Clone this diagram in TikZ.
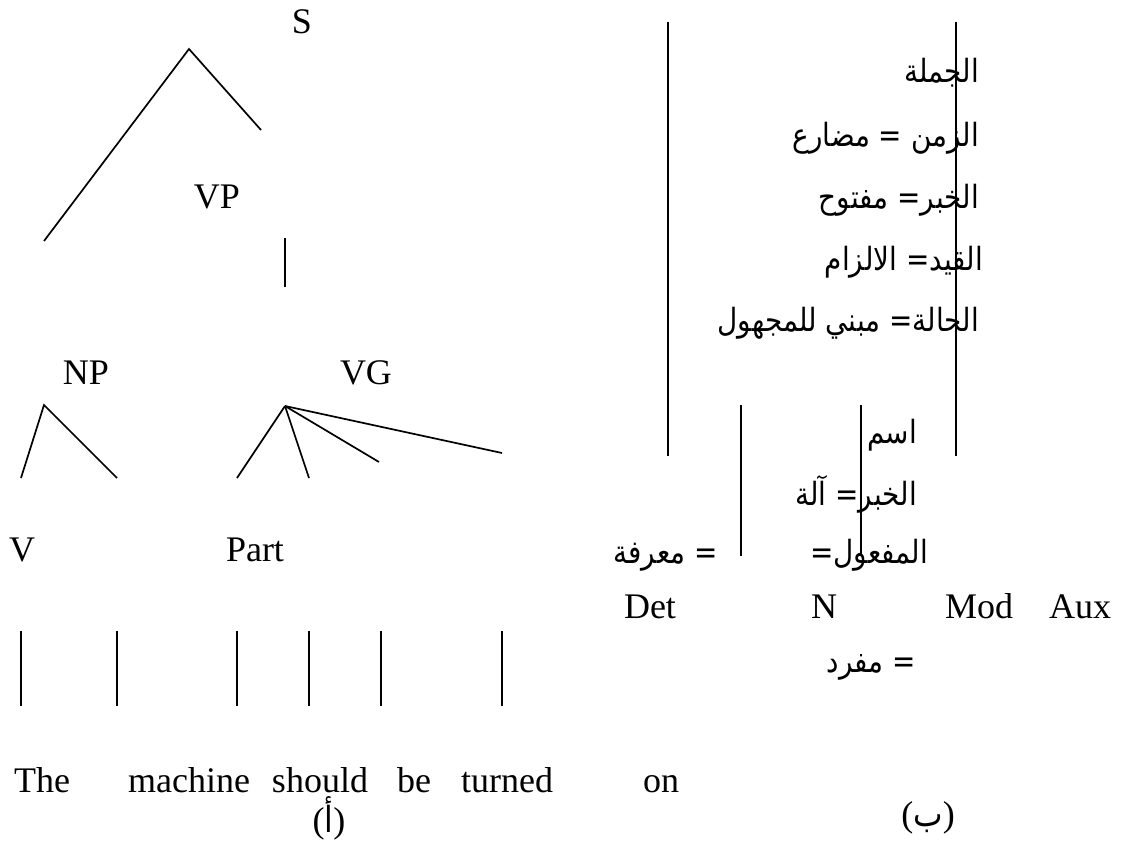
\documentclass[tikz,border=0pt]{standalone}
\usepackage{fontspec}
\setmainfont{Liberation Serif}
\newfontfamily\arabicfont[Script=Arabic,FakeStretch=0.87]{DejaVu Sans}
\TeXXeTstate=1
\begin{document}
\begin{tikzpicture}[x=1pt,y=-1pt,
  lat/.style={font=\fontsize{36}{40}\selectfont, inner sep=0pt, anchor=base},
  ara/.style={font=\arabicfont\fontsize{32}{36}\selectfont, inner sep=0pt, anchor=base east},
  branch/.style={line width=1.7pt, line cap=butt}]
\useasboundingbox (0,0) rectangle (1126,843);
% ---------- left tree ----------
\node[lat] (S) at (302,34) {S};
\node[lat] (VP) at (217,208) {VP};
\node[lat] (NP) at (86,384) {NP};
\node[lat] (VG) at (366,384) {VG};
\node[lat] (V) at (22,561) {V};
\node[lat] (Part) at (255,561) {Part};
\node[lat] (w1) at (42,792) {The};
\node[lat] (w2) at (189,792) {machine};
\node[lat] (w3) at (320,792) {should};
\node[lat] (w4) at (414,792) {be};
\node[lat] (w5) at (507,792) {turned};
\node[lat] (w6) at (661,792) {on};
\node[lat, anchor=center] (capA) at (329,818) {({\arabicfont أ})};
% S branches
\coordinate (Sa) at (189,49);
\coordinate (Sl) at (44,241);
\coordinate (Sr) at (261,130);
\draw[branch] (Sl) -- (Sa) -- (Sr);
% VP stem
\coordinate (VPt) at (285,238);
\coordinate (VPb) at (285,287);
\draw[branch] (VPt) -- (VPb);
% NP branches
\coordinate (NPa) at (44,405);
\coordinate (NPl) at (21,478);
\coordinate (NPr) at (117,478);
\draw[branch] (NPl) -- (NPa) -- (NPr);
% VG branches
\coordinate (VGa) at (285,406);
\coordinate (VG1) at (237,478);
\coordinate (VG2) at (309,478);
\coordinate (VG3) at (379,462);
\coordinate (VG4) at (502,453);
\foreach \e in {VG1,VG2,VG3,VG4} \draw[branch] (VGa) -- (\e);
% word stems
\foreach \i/\x in {1/21,2/117,3/237,4/309,5/381,6/502}{
  \coordinate (st\i) at (\x,631);
  \coordinate (sb\i) at (\x,706);
  \draw[branch] (st\i) -- (sb\i);
}
% ---------- right part ----------
\coordinate (L1t) at (668,22);  \coordinate (L1b) at (668,456);
\coordinate (L2t) at (956,22);  \coordinate (L2b) at (956,456);
\coordinate (M1t) at (741,405); \coordinate (M1b) at (741,556);
\coordinate (M2t) at (861,405); \coordinate (M2b) at (861,556);
\draw[branch] (L1t) -- (L1b);
\draw[branch] (L2t) -- (L2b);
\draw[branch] (M1t) -- (M1b);
\draw[branch] (M2t) -- (M2b);
\node[ara] (a1) at (979,82) {\beginR الجملة\endR};
\node[ara] (a2) at (979,146) {\beginR الزمن = مضارع\endR};
\node[ara] (a3) at (979,208) {\beginR الخبر= مفتوح\endR};
\node[ara] (a4) at (983,270) {\beginR القيد= الالزام\endR};
\node[ara] (a5) at (979,331) {\beginR الحالة= مبني للمجهول\endR};
\node[ara] (b1) at (917,443) {\beginR اسم\endR};
\node[ara] (b2) at (917,505) {\beginR الخبر= آلة\endR};
\node[ara] (b3) at (928,563) {\beginR المفعول=\endR};
\node[ara] (b4) at (718,563) {\beginR = معرفة\endR};
\node[lat] (Det) at (650,618) {Det};
\node[lat] (N) at (824,618) {N};
\node[lat] (Mod) at (979,618) {Mod};
\node[lat] (Aux) at (1080,618) {Aux};
\node[ara] (b5) at (916,672) {\beginR = مفرد\endR};
\node[lat, anchor=center] (capB) at (928,818) {({\arabicfont ب})};
\end{tikzpicture}
\end{document}
